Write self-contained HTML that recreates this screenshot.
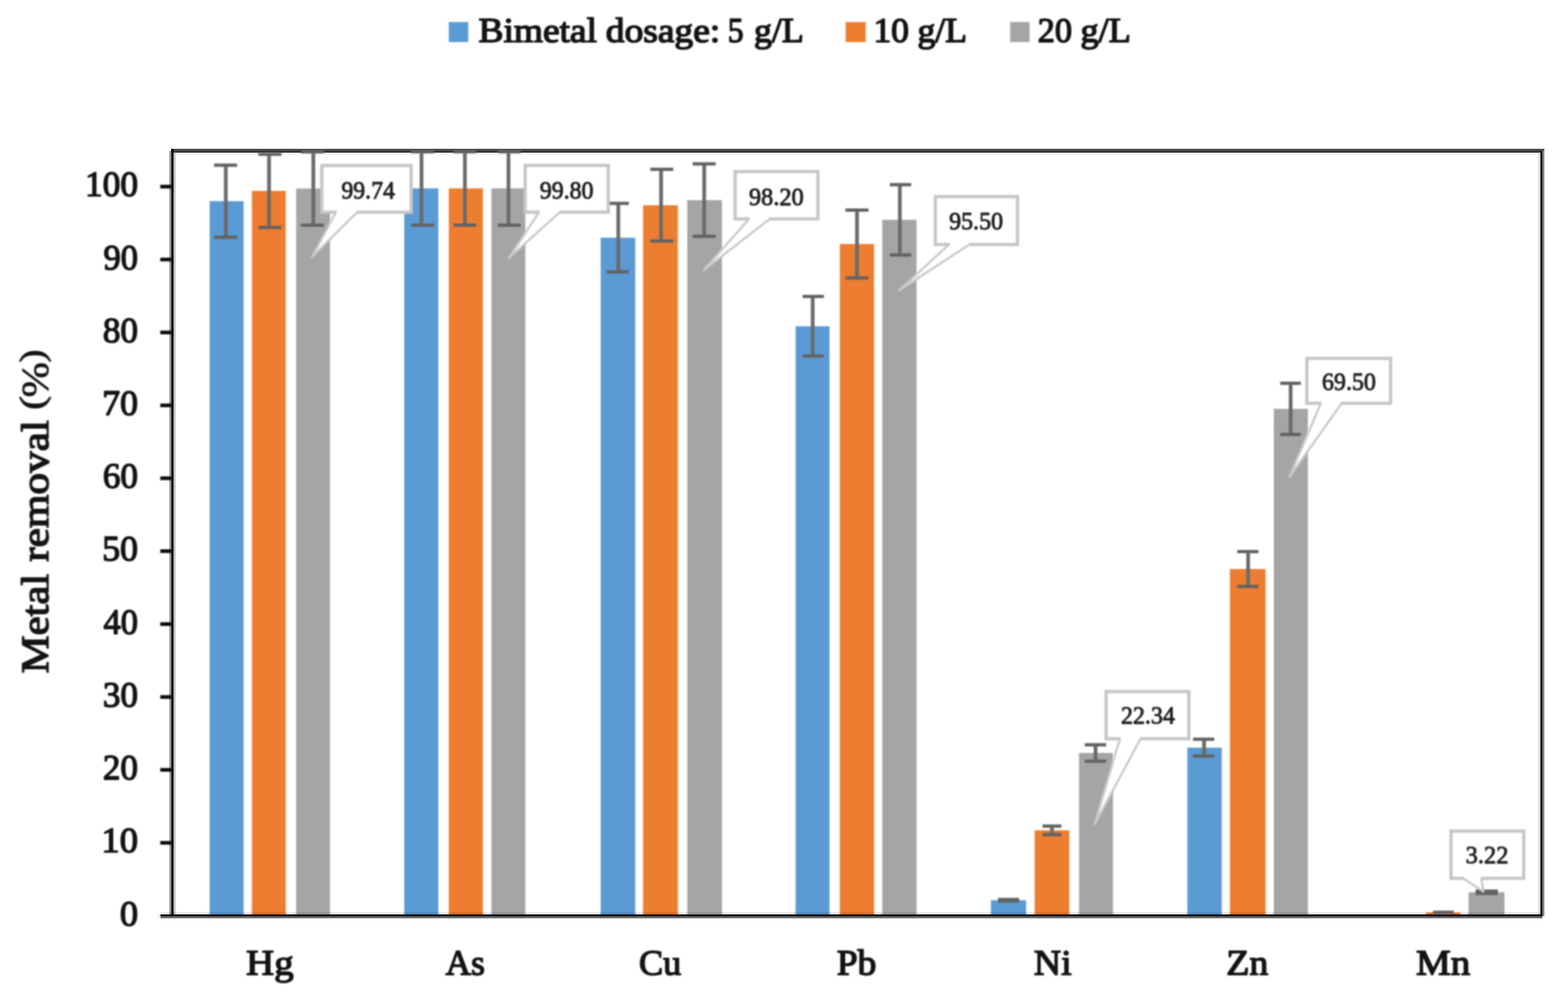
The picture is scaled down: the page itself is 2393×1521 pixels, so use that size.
<!DOCTYPE html>
<html lang="en">
<head>
<meta charset="utf-8">
<title>Metal removal (%) by bimetal dosage</title>
<style>
html,body{margin:0;padding:0;background:#ffffff;}
body{width:2393px;height:1521px;}
svg{display:block;}
</style>
</head>
<body>
<svg width="2393" height="1521" viewBox="0 0 2393 1521">
<rect x="0" y="0" width="2393" height="1521" fill="#ffffff"/>
<defs><filter id="soft" x="0" y="0" width="2393" height="1521" filterUnits="userSpaceOnUse" color-interpolation-filters="sRGB"><feGaussianBlur stdDeviation="1.1"/></filter></defs>
<g id="chart" filter="url(#soft)">
<rect x="0" y="0" width="2393" height="1521" fill="#ffffff"/>
<g id="legend" font-family="'Liberation Serif', 'DejaVu Serif', serif" font-size="52.5px" fill="#141414" stroke="#141414" stroke-linejoin="round">
<rect x="684.9" y="33.6" width="29.8" height="30.6" fill="#5b9bd5" stroke="none"/>
<text><tspan x="730.36" y="64.0" textLength="180.62" lengthAdjust="spacingAndGlyphs" stroke-width="2.1">Bimetal</tspan> <tspan x="924.56" y="64.0" textLength="174.70" lengthAdjust="spacingAndGlyphs" stroke-width="2.1">dosage:</tspan> <tspan x="1110.81" y="64.0" textLength="23.98" lengthAdjust="spacingAndGlyphs" stroke-width="2.1">5</tspan> <tspan x="1150.77" y="64.0" textLength="75.88" lengthAdjust="spacingAndGlyphs" stroke-width="2.1">g/L</tspan></text>
<rect x="1290.6" y="33.6" width="30.6" height="30.6" fill="#ed7d31" stroke="none"/>
<text><tspan x="1332.91" y="64.0" textLength="54.33" lengthAdjust="spacingAndGlyphs" stroke-width="2.1">10</tspan> <tspan x="1400.18" y="64.0" textLength="75.55" lengthAdjust="spacingAndGlyphs" stroke-width="2.1">g/L</tspan></text>
<rect x="1541.6" y="33.6" width="29.8" height="30.6" fill="#a5a5a5" stroke="none"/>
<text><tspan x="1583.86" y="64.0" textLength="52.13" lengthAdjust="spacingAndGlyphs" stroke-width="2.1">20</tspan> <tspan x="1648.94" y="64.0" textLength="76.84" lengthAdjust="spacingAndGlyphs" stroke-width="2.1">g/L</tspan></text>
</g>
<g id="bars">
<rect x="320.0" y="306.9" width="51.8" height="1090.1" fill="#5b9bd5"/>
<rect x="384.4" y="291.2" width="51.7" height="1105.8" fill="#ed7d31"/>
<rect x="452.0" y="287.6" width="51.6" height="1109.4" fill="#a5a5a5"/>
<rect x="617.0" y="287.4" width="52.0" height="1109.6" fill="#5b9bd5"/>
<rect x="685.0" y="287.4" width="52.0" height="1109.6" fill="#ed7d31"/>
<rect x="750.0" y="287.4" width="51.7" height="1109.6" fill="#a5a5a5"/>
<rect x="916.7" y="362.6" width="52.8" height="1034.4" fill="#5b9bd5"/>
<rect x="981.4" y="313.1" width="53.1" height="1083.9" fill="#ed7d31"/>
<rect x="1048.8" y="305.3" width="53.0" height="1091.7" fill="#a5a5a5"/>
<rect x="1214.2" y="497.7" width="51.8" height="899.3" fill="#5b9bd5"/>
<rect x="1281.7" y="372.3" width="52.3" height="1024.7" fill="#ed7d31"/>
<rect x="1346.5" y="335.3" width="52.3" height="1061.7" fill="#a5a5a5"/>
<rect x="1512.3" y="1373.4" width="53.7" height="23.6" fill="#5b9bd5"/>
<rect x="1579.0" y="1266.7" width="53.0" height="130.3" fill="#ed7d31"/>
<rect x="1646.7" y="1148.7" width="51.8" height="248.3" fill="#a5a5a5"/>
<rect x="1812.0" y="1140.6" width="52.6" height="256.4" fill="#5b9bd5"/>
<rect x="1877.0" y="868.1" width="54.5" height="528.9" fill="#ed7d31"/>
<rect x="1944.0" y="623.7" width="52.0" height="773.3" fill="#a5a5a5"/>
<rect x="2176.4" y="1392.0" width="52.4" height="5.0" fill="#ed7d31"/>
<rect x="2241.3" y="1361.2" width="54.7" height="35.8" fill="#a5a5a5"/>
</g>
</g>
<g id="axes">
<rect x="261.3" y="227.0" width="2095.6" height="3.2" fill="#4a4a4a"/>
<rect x="261.3" y="230.2" width="2092.6" height="2.7" fill="#202020"/>
<rect x="264.9" y="232.9" width="2086.1" height="3.0" fill="#f1f1f1"/>
<rect x="258.2" y="230.2" width="3.1" height="1164.7" fill="#a2a2a2"/>
<rect x="261.3" y="227.0" width="3.6" height="1170.7" fill="#000000"/>
<rect x="264.9" y="232.9" width="3.0" height="1162.0" fill="#c2c2c2"/>
<rect x="2347.6" y="232.9" width="3.4" height="1162.0" fill="#dadada"/>
<rect x="2351.0" y="230.2" width="2.9" height="1167.5" fill="#000000"/>
<rect x="2353.9" y="230.2" width="3.0" height="1167.5" fill="#808080"/>
<rect x="246" y="1391.6" width="2105" height="3.4" fill="#000000" fill-opacity="0.10"/>
<rect x="245" y="1395" width="2109" height="3" fill="#0c0c0c"/>
<rect x="245" y="1398" width="2109" height="3" fill="#6e6e6e"/>
<rect x="242" y="1395" width="3" height="6" fill="#000000" fill-opacity="0.12"/>
</g>
<g id="overlay" filter="url(#soft)">
<g id="ticks" fill="#0a0a0a">
<rect x="244.6" y="281.9" width="17.5" height="5.6"/>
<rect x="244.6" y="393.1" width="17.5" height="5.6"/>
<rect x="244.6" y="504.4" width="17.5" height="5.6"/>
<rect x="244.6" y="615.6" width="17.5" height="5.6"/>
<rect x="244.6" y="726.8" width="17.5" height="5.6"/>
<rect x="244.6" y="838.0" width="17.5" height="5.6"/>
<rect x="244.6" y="949.3" width="17.5" height="5.6"/>
<rect x="244.6" y="1060.5" width="17.5" height="5.6"/>
<rect x="244.6" y="1171.7" width="17.5" height="5.6"/>
<rect x="244.6" y="1283.0" width="17.5" height="5.6"/>
</g>
<g id="errorbars" fill="none">
<path d="M344.6 251.9V362.0" stroke="#6a6a6a" stroke-width="5.7"/>
<path d="M326.6 251.9H361.9M326.6 362.0H361.9" stroke="#626262" stroke-width="5.0"/>
<path d="M410.6 235.3V347.0" stroke="#6a6a6a" stroke-width="5.7"/>
<path d="M394.3 235.3H429.6M394.3 347.0H429.6" stroke="#626262" stroke-width="5.0"/>
<path d="M478.2 231.6V343.6" stroke="#6a6a6a" stroke-width="5.7"/>
<path d="M459.2 231.6H494.0M459.2 343.6H494.0" stroke="#626262" stroke-width="5.0"/>
<path d="M643.3 231.3V343.4" stroke="#6a6a6a" stroke-width="5.7"/>
<path d="M627.3 231.3H662.2M627.3 343.4H662.2" stroke="#626262" stroke-width="5.0"/>
<path d="M709.5 231.3V343.4" stroke="#6a6a6a" stroke-width="5.7"/>
<path d="M692.0 231.3H726.8M692.0 343.4H726.8" stroke="#626262" stroke-width="5.0"/>
<path d="M776.0 231.3V343.4" stroke="#6a6a6a" stroke-width="5.7"/>
<path d="M759.7 231.3H794.8M759.7 343.4H794.8" stroke="#626262" stroke-width="5.0"/>
<path d="M943.6 310.3V414.8" stroke="#6a6a6a" stroke-width="5.7"/>
<path d="M925.5 310.3H959.7M925.5 414.8H959.7" stroke="#626262" stroke-width="5.0"/>
<path d="M1008.9 258.3V367.8" stroke="#6a6a6a" stroke-width="5.7"/>
<path d="M992.5 258.3H1027.6M992.5 367.8H1027.6" stroke="#626262" stroke-width="5.0"/>
<path d="M1074.7 250.1V360.4" stroke="#6a6a6a" stroke-width="5.7"/>
<path d="M1057.2 250.1H1092.3M1057.2 360.4H1092.3" stroke="#626262" stroke-width="5.0"/>
<path d="M1240.3 452.3V543.1" stroke="#6a6a6a" stroke-width="5.7"/>
<path d="M1225.0 452.3H1257.4M1225.0 543.1H1257.4" stroke="#626262" stroke-width="5.0"/>
<path d="M1307.9 320.6V424.1" stroke="#6a6a6a" stroke-width="5.7"/>
<path d="M1290.3 320.6H1325.4M1290.3 424.1H1325.4" stroke="#626262" stroke-width="5.0"/>
<path d="M1373.3 281.7V388.9" stroke="#6a6a6a" stroke-width="5.7"/>
<path d="M1358.0 281.7H1390.6M1358.0 388.9H1390.6" stroke="#626262" stroke-width="5.0"/>
<path d="M1539.2 1372.2V1374.6" stroke="#6a6a6a" stroke-width="5.7"/>
<path d="M1523.0 1372.2H1555.4M1523.0 1374.6H1555.4" stroke="#626262" stroke-width="5.0"/>
<path d="M1605.4 1260.2V1273.3" stroke="#6a6a6a" stroke-width="5.7"/>
<path d="M1591.0 1260.2H1620.0M1591.0 1273.3H1620.0" stroke="#626262" stroke-width="5.0"/>
<path d="M1672.0 1136.2V1161.3" stroke="#6a6a6a" stroke-width="5.7"/>
<path d="M1655.5 1136.2H1688.1M1655.5 1161.3H1688.1" stroke="#626262" stroke-width="5.0"/>
<path d="M1837.6 1127.7V1153.6" stroke="#6a6a6a" stroke-width="5.7"/>
<path d="M1820.7 1127.7H1853.2M1820.7 1153.6H1853.2" stroke="#626262" stroke-width="5.0"/>
<path d="M1904.8 841.4V894.8" stroke="#6a6a6a" stroke-width="5.7"/>
<path d="M1888.2 841.4H1920.6M1888.2 894.8H1920.6" stroke="#626262" stroke-width="5.0"/>
<path d="M1969.7 584.7V662.8" stroke="#6a6a6a" stroke-width="5.7"/>
<path d="M1953.8 584.7H1985.3M1953.8 662.8H1985.3" stroke="#626262" stroke-width="5.0"/>
<path d="M2203.0 1391.7V1392.2" stroke="#6a6a6a" stroke-width="5.7"/>
<path d="M2187.0 1391.7H2218.8M2187.0 1392.2H2218.8" stroke="#626262" stroke-width="5.0"/>
<path d="M2269.0 1359.4V1363.0" stroke="#6a6a6a" stroke-width="5.7"/>
<path d="M2251.9 1359.4H2286.0M2251.9 1363.0H2286.0" stroke="#626262" stroke-width="5.0"/>
</g>
<g id="callouts" font-family="'Liberation Serif', 'DejaVu Serif', serif" font-size="38.5px" fill="#222222" stroke="#222222" stroke-linejoin="round">
<path d="M512.6 323.7L476.0 392.3L545.0 323.7" fill="#ffffff" stroke="#c9c9c9" stroke-width="3.4" stroke-linejoin="round" stroke-linecap="butt"/>
<rect x="491.1" y="252.5" width="136.4" height="71.2" fill="#ffffff" stroke="none"/>
<path d="M513.8 323.7H491.1V252.5H627.5V323.7H543.8" fill="none" stroke="#c6c6c6" stroke-width="5.0" stroke-linejoin="miter"/>
<text><tspan x="520.90" y="302.8" textLength="81.88" lengthAdjust="spacingAndGlyphs" stroke-width="1.3">99.74</tspan></text>
<path d="M822.6 323.8L776.4 394.0L854.3 323.8" fill="#ffffff" stroke="#c9c9c9" stroke-width="3.4" stroke-linejoin="round" stroke-linecap="butt"/>
<rect x="801.5" y="252.2" width="126.8" height="71.6" fill="#ffffff" stroke="none"/>
<path d="M823.8 323.8H801.5V252.2H928.3V323.8H853.1" fill="none" stroke="#c6c6c6" stroke-width="5.0" stroke-linejoin="miter"/>
<text><tspan x="823.70" y="302.8" textLength="82.03" lengthAdjust="spacingAndGlyphs" stroke-width="1.3">99.80</tspan></text>
<path d="M1143.0 334.1L1073.9 412.3L1174.6 334.1" fill="#ffffff" stroke="#c9c9c9" stroke-width="3.4" stroke-linejoin="round" stroke-linecap="butt"/>
<rect x="1121.9" y="261.8" width="126.4" height="72.3" fill="#ffffff" stroke="none"/>
<path d="M1144.2 334.1H1121.9V261.8H1248.3V334.1H1173.4" fill="none" stroke="#c6c6c6" stroke-width="5.0" stroke-linejoin="miter"/>
<text><tspan x="1142.99" y="312.6" textLength="83.57" lengthAdjust="spacingAndGlyphs" stroke-width="1.3">98.20</tspan></text>
<path d="M1448.3 372.9L1372.2 443.1L1479.7 372.9" fill="#ffffff" stroke="#c9c9c9" stroke-width="3.4" stroke-linejoin="round" stroke-linecap="butt"/>
<rect x="1427.4" y="300.1" width="125.5" height="72.8" fill="#ffffff" stroke="none"/>
<path d="M1449.5 372.9H1427.4V300.1H1552.9V372.9H1478.5" fill="none" stroke="#c6c6c6" stroke-width="5.0" stroke-linejoin="miter"/>
<text><tspan x="1448.40" y="349.6" textLength="82.44" lengthAdjust="spacingAndGlyphs" stroke-width="1.3">95.50</tspan></text>
<path d="M1709.1 1127.0L1670.6 1257.4L1740.7 1127.0" fill="#ffffff" stroke="#c9c9c9" stroke-width="3.4" stroke-linejoin="round" stroke-linecap="butt"/>
<rect x="1688.1" y="1055.1" width="126.3" height="71.9" fill="#ffffff" stroke="none"/>
<path d="M1710.3 1127.0H1688.1V1055.1H1814.4V1127.0H1739.5" fill="none" stroke="#c6c6c6" stroke-width="5.0" stroke-linejoin="miter"/>
<text><tspan x="1710.70" y="1103.8" textLength="82.39" lengthAdjust="spacingAndGlyphs" stroke-width="1.3">22.34</tspan></text>
<path d="M2015.8 615.3L1968.0 727.4L2047.7 615.3" fill="#ffffff" stroke="#c9c9c9" stroke-width="3.4" stroke-linejoin="round" stroke-linecap="butt"/>
<rect x="1994.5" y="546.7" width="127.7" height="68.6" fill="#ffffff" stroke="none"/>
<path d="M2017.0 615.3H1994.5V546.7H2122.2V615.3H2046.5" fill="none" stroke="#c6c6c6" stroke-width="5.0" stroke-linejoin="miter"/>
<text><tspan x="2017.60" y="595.0" textLength="82.24" lengthAdjust="spacingAndGlyphs" stroke-width="1.3">69.50</tspan></text>
<path d="M2233.0 1340.0L2263.9 1360.4L2260.8 1340.0" fill="#ffffff" stroke="#c9c9c9" stroke-width="3.4" stroke-linejoin="round" stroke-linecap="butt"/>
<rect x="2214.5" y="1267.9" width="111.0" height="72.1" fill="#ffffff" stroke="none"/>
<path d="M2234.2 1340.0H2214.5V1267.9H2325.5V1340.0H2259.6" fill="none" stroke="#c6c6c6" stroke-width="5.0" stroke-linejoin="miter"/>
<text><tspan x="2236.78" y="1316.8" textLength="65.28" lengthAdjust="spacingAndGlyphs" stroke-width="1.3">3.22</tspan></text>
</g>
<g id="yticks" font-family="'Liberation Serif', 'DejaVu Serif', serif" font-size="54px" fill="#141414" stroke="#141414" stroke-linejoin="round">
<text><tspan x="129.81" y="299.3" textLength="80.78" lengthAdjust="spacingAndGlyphs" stroke-width="2.0">100</tspan></text>
<text><tspan x="158.03" y="410.5" textLength="52.52" lengthAdjust="spacingAndGlyphs" stroke-width="2.0">90</tspan></text>
<text><tspan x="157.02" y="521.8" textLength="53.57" lengthAdjust="spacingAndGlyphs" stroke-width="2.0">80</tspan></text>
<text><tspan x="155.96" y="633.0" textLength="54.66" lengthAdjust="spacingAndGlyphs" stroke-width="2.0">70</tspan></text>
<text><tspan x="157.02" y="744.2" textLength="53.57" lengthAdjust="spacingAndGlyphs" stroke-width="2.0">60</tspan></text>
<text><tspan x="155.96" y="855.4" textLength="54.66" lengthAdjust="spacingAndGlyphs" stroke-width="2.0">50</tspan></text>
<text><tspan x="158.03" y="966.7" textLength="52.52" lengthAdjust="spacingAndGlyphs" stroke-width="2.0">40</tspan></text>
<text><tspan x="157.02" y="1077.9" textLength="53.57" lengthAdjust="spacingAndGlyphs" stroke-width="2.0">30</tspan></text>
<text><tspan x="157.02" y="1189.1" textLength="53.57" lengthAdjust="spacingAndGlyphs" stroke-width="2.0">20</tspan></text>
<text><tspan x="154.87" y="1300.4" textLength="55.80" lengthAdjust="spacingAndGlyphs" stroke-width="2.0">10</tspan></text>
<text><tspan x="182.95" y="1411.6" textLength="27.70" lengthAdjust="spacingAndGlyphs" stroke-width="2.0">0</tspan></text>
</g>
<g id="ytitle" font-family="'Liberation Serif', 'DejaVu Serif', serif" font-size="60px" fill="#141414" stroke="#141414" stroke-linejoin="round" transform="translate(73.4 1028) rotate(-90)">
<text><tspan x="0.76" y="0" textLength="151.91" lengthAdjust="spacingAndGlyphs" stroke-width="2.1">Metal</tspan> <tspan x="170.95" y="0" textLength="216.14" lengthAdjust="spacingAndGlyphs" stroke-width="2.1">removal</tspan> <tspan x="402.70" y="-6.6" font-size="53px" textLength="21.18" lengthAdjust="spacingAndGlyphs" stroke-width="1.2">(</tspan><tspan x="421.85" y="0" textLength="53.78" lengthAdjust="spacingAndGlyphs" stroke-width="1.0">%</tspan><tspan x="474.98" y="-6.6" font-size="53px" textLength="19.77" lengthAdjust="spacingAndGlyphs" stroke-width="1.2">)</tspan></text>
</g>
<g id="xlabels" font-family="'Liberation Serif', 'DejaVu Serif', serif" font-size="54.5px" fill="#141414" stroke="#141414" stroke-linejoin="round">
<text><tspan x="375.56" y="1487.3" textLength="72.66" lengthAdjust="spacingAndGlyphs" stroke-width="2.1">Hg</tspan></text>
<text><tspan x="680.05" y="1487.3" textLength="59.90" lengthAdjust="spacingAndGlyphs" stroke-width="2.1">As</tspan></text>
<text><tspan x="975.22" y="1487.3" textLength="64.48" lengthAdjust="spacingAndGlyphs" stroke-width="2.1">Cu</tspan></text>
<text><tspan x="1277.00" y="1487.3" textLength="60.46" lengthAdjust="spacingAndGlyphs" stroke-width="2.1">Pb</tspan></text>
<text><tspan x="1577.79" y="1487.3" textLength="57.71" lengthAdjust="spacingAndGlyphs" stroke-width="2.1">Ni</tspan></text>
<text><tspan x="1871.43" y="1487.3" textLength="64.19" lengthAdjust="spacingAndGlyphs" stroke-width="2.1">Zn</tspan></text>
<text><tspan x="2160.95" y="1487.3" textLength="82.97" lengthAdjust="spacingAndGlyphs" stroke-width="2.1">Mn</tspan></text>
</g>
</g>
</svg>
</body>
</html>
